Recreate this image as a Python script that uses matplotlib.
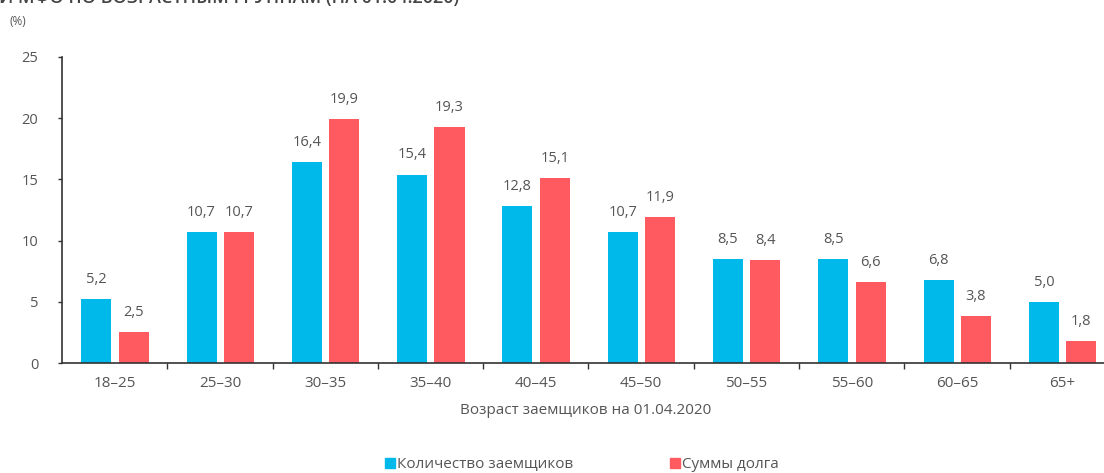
import numpy as np
import matplotlib.pyplot as plt

plt.rcParams['font.family'] = ['Open Sans', 'DejaVu Sans']

# Распределение заемщиков и сумм долга по возрасту, %
возраст = ['18–25', '25–30', '30–35', '35–40', '40–45', '45–50',
           '50–55', '55–60', '60–65', '65+']
заемщики = [5.2, 10.7, 16.4, 15.4, 12.8, 10.7, 8.5, 8.5, 6.8, 5.0]
долг = [2.5, 10.7, 19.9, 19.3, 15.1, 11.9, 8.4, 6.6, 3.8, 1.8]

синий = '#00B9EB'
красный = '#FF5A5F'
серый = '#555555'

fig = plt.figure(figsize=(11.04, 4.73), dpi=100)
ax = fig.add_axes([62 / 1104, 1 - 363 / 473, (1115 - 62) / 1104, (363 - 57) / 473])

x = np.arange(len(возраст))
w = 0.285
b1 = ax.bar(x - 0.175, заемщики, w, color=синий)
b2 = ax.bar(x + 0.18, долг, w, color=красный)

for bars, vals in ((b1, заемщики), (b2, долг)):
    for rect, v in zip(bars, vals):
        ax.text(rect.get_x() + rect.get_width() / 2, v + 1.0,
                f'{v:.1f}'.replace('.', ','), ha='center', va='bottom',
                fontsize=10.5, color=серый)

ax.set_xlim(-0.5, len(возраст) - 0.5)
ax.set_ylim(0, 25)
ax.set_yticks([0, 5, 10, 15, 20, 25])
ax.set_xticks(x)
ax.set_xticklabels(возраст)
ax.set_xticks(np.arange(len(возраст)) + 0.5, minor=True)
ax.tick_params(axis='x', which='major', length=0, pad=9, labelsize=11, labelcolor=серый)
ax.tick_params(axis='x', which='minor', length=4, width=1, color='#333333')
ax.tick_params(axis='y', length=3, width=1, color='#333333', pad=14,
               labelsize=10.5, labelcolor=серый)
for s in ('top', 'right'):
    ax.spines[s].set_visible(False)
for s in ('left', 'bottom'):
    ax.spines[s].set_color('#333333')
    ax.spines[s].set_linewidth(1.2)

fig.text(586 / 1104, 1 - 411 / 473, 'Возраст заемщиков на 01.04.2020',
         ha='center', va='center', fontsize=11, color=серый)

fig.text(-0.001, 1.004, 'И МФО ПО ВОЗРАСТНЫМ ГРУППАМ (НА 01.04.2020)',
         ha='left', va='center', fontsize=13, fontweight='semibold', color='#444444')
fig.text(10 / 1104, 1 - 21 / 473, '(%)', ha='left', va='center',
         fontsize=8.5, color=серый)

# легенда внизу
fig.patches.append(plt.Rectangle((385 / 1104, 1 - 468 / 473), 10 / 1104, 10 / 473,
                                 transform=fig.transFigure, color=синий))
fig.text(397 / 1104, 1 - 464 / 473, 'Количество заемщиков', ha='left',
         va='center', fontsize=11, color=серый)
fig.patches.append(plt.Rectangle((670 / 1104, 1 - 468 / 473), 10 / 1104, 10 / 473,
                                 transform=fig.transFigure, color=красный))
fig.text(682 / 1104, 1 - 464 / 473, 'Суммы долга', ha='left',
         va='center', fontsize=11, color=серый)

fig.savefig('out.png', dpi=100)
